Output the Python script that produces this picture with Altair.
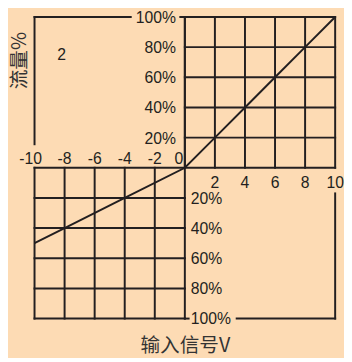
import altair as alt
import pandas as pd

# ---- data ----
signal = [-10, -8, -4, 0, 2, 4, 6, 8, 10]          # input signal V
flow = [-50, -40, -20, 0, 20, 40, 60, 80, 100]      # flow %

pos_x_ticks = [2, 4, 6, 8, 10]
neg_x_ticks = [-8, -6, -4, -2]
pct_ticks = [20, 40, 60, 80, 100]

BG = "#fddbb4"
INK = "#231f20"
FONT = "Liberation Sans"
CJK = "Noto Sans CJK SC"

XS = alt.Scale(domain=[-10, 10], nice=False, zero=False)
YS = alt.Scale(domain=[-100, 100], nice=False, zero=False)

# ---- grid / frame segments built from tick lists ----
segs = []
for t in [0] + pos_x_ticks:
    segs.append((t, 0, t, 100))
segs.append((0, -100, 0, 100))
for p in pct_ticks:
    segs.append((0 if p < 100 else -0.3, p, 10, p))
segs.append((-10, 0, 10, 0))
for t in [-10] + neg_x_ticks:
    segs.append((t, -100, t, 0))
for p in pct_ticks:
    segs.append((-10, -p, 0, -p))
segs.append((0, -100, 0.25, -100))
# outer frame pieces
segs.append((-10, 100, -3.6, 100))
segs.append((-10, 15.6, -10, 100))
segs.append((10, -17, 10, -100))
segs.append((3.45, -100, 10, -100))
seg_df = pd.DataFrame(segs, columns=["x", "y", "x2", "y2"])

rules = alt.Chart(seg_df).mark_rule(color=INK, strokeWidth=2, strokeCap="square").encode(
    x=alt.X("x:Q", scale=XS, axis=alt.Axis(
        title="输入信号V", labels=False, ticks=False, domain=False, grid=False,
        titleFont=CJK, titleFontSize=20, titleFontWeight="normal", titleColor="#333333",
        titlePadding=18)),
    x2="x2:Q",
    y=alt.Y("y:Q", scale=YS, axis=alt.Axis(
        title="流量%", labels=False, ticks=False, domain=False, grid=False,
        titleFont=CJK, titleFontSize=20, titleFontWeight="normal", titleColor="#333333",
        titleX=-15, titleY=44, titleAlign="center", titleBaseline="middle", titleAngle=-90)),
    y2="y2:Q",
)

line_df = pd.DataFrame({"x": signal, "y": flow})
line = alt.Chart(line_df).mark_line(color=INK, strokeWidth=2).encode(
    x=alt.X("x:Q", scale=XS), y=alt.Y("y:Q", scale=YS)
)

up_df = pd.DataFrame({"x": [0] * len(pct_ticks), "y": pct_ticks,
                      "t": [f"{p}%" for p in pct_ticks]})
up_lbl = alt.Chart(up_df).mark_text(align="right", baseline="middle", dx=-9, dy=1,
                                    font=FONT, fontSize=16, color=INK).encode(
    x=alt.X("x:Q", scale=XS), y=alt.Y("y:Q", scale=YS), text="t:N")

dn_df = pd.DataFrame({"x": [0] * len(pct_ticks), "y": [-p for p in pct_ticks],
                      "t": [f"{p}%" for p in pct_ticks]})
dn_lbl = alt.Chart(dn_df).mark_text(align="left", baseline="middle", dx=6, dy=1,
                                    font=FONT, fontSize=16, color=INK).encode(
    x=alt.X("x:Q", scale=XS), y=alt.Y("y:Q", scale=YS), text="t:N")

neg_df = pd.DataFrame({"x": neg_x_ticks, "y": [0] * len(neg_x_ticks),
                       "t": [str(v) for v in neg_x_ticks]})
neg_lbl = alt.Chart(neg_df).mark_text(align="center", baseline="alphabetic", dy=-4,
                                      font=FONT, fontSize=16, color=INK).encode(
    x=alt.X("x:Q", scale=XS), y=alt.Y("y:Q", scale=YS), text="t:N")

m10_df = pd.DataFrame({"x": [-10], "y": [0], "t": ["-10"]})
m10_lbl = alt.Chart(m10_df).mark_text(align="center", baseline="alphabetic", dy=-4, dx=-4,
                                      font=FONT, fontSize=16, color=INK).encode(
    x=alt.X("x:Q", scale=XS), y=alt.Y("y:Q", scale=YS), text="t:N")

z_df = pd.DataFrame({"x": [0], "y": [0], "t": ["0"]})
z_lbl = alt.Chart(z_df).mark_text(align="center", baseline="alphabetic", dy=-4, dx=-6,
                                  font=FONT, fontSize=16, color=INK).encode(
    x=alt.X("x:Q", scale=XS), y=alt.Y("y:Q", scale=YS), text="t:N")

pos_df = pd.DataFrame({"x": pos_x_ticks, "y": [0] * len(pos_x_ticks),
                       "t": [str(v) for v in pos_x_ticks]})
pos_lbl = alt.Chart(pos_df).mark_text(align="center", baseline="alphabetic", dy=21,
                                      font=FONT, fontSize=16, color=INK).encode(
    x=alt.X("x:Q", scale=XS), y=alt.Y("y:Q", scale=YS), text="t:N")

note_df = pd.DataFrame({"x": [-8.2], "y": [75], "t": ["2"]})
note = alt.Chart(note_df).mark_text(align="center", baseline="middle",
                                    font=FONT, fontSize=16, color=INK).encode(
    x=alt.X("x:Q", scale=XS), y=alt.Y("y:Q", scale=YS), text="t:N")

chart = alt.layer(rules, line, up_lbl, dn_lbl, neg_lbl, m10_lbl, z_lbl, pos_lbl, note).properties(
    width=306, height=307,
    autosize=alt.AutoSizeParams(type="none"),
    padding={"left": 27, "top": 6, "right": 9, "bottom": 37},
    background=BG,
).configure_view(stroke=None)

chart.save("out.html", embed_options={"renderer": "svg", "actions": False})
